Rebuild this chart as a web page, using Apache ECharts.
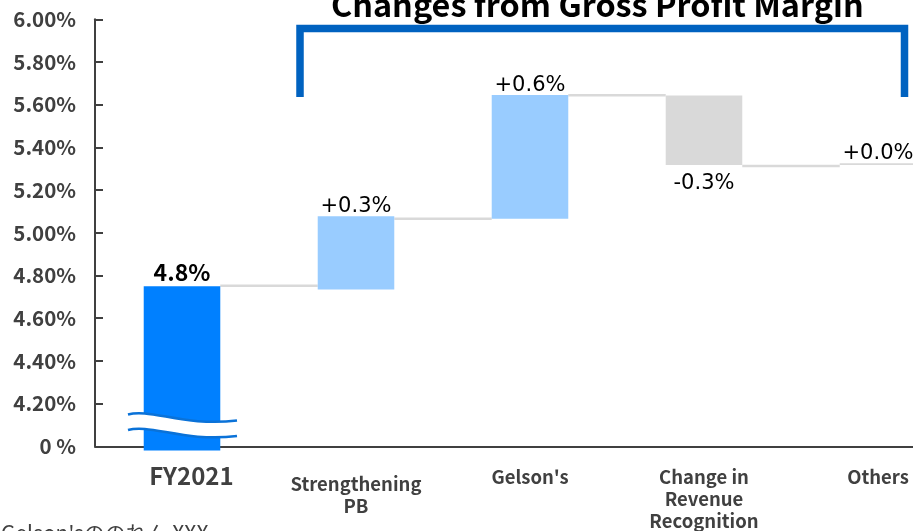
<!DOCTYPE html>
<html>
<head>
<meta charset="utf-8">
<script src="https://cdn.jsdelivr.net/npm/echarts@6/dist/echarts.min.js"></script>
<style>html,body{margin:0;padding:0;background:#fff;}#c{width:913px;height:531px;}</style>
</head>
<body>
<div id="c"></div>
<script>
// ---- data ----
const categories = ['FY2021', 'Strengthening\nPB', "Gelson's", 'Change in\nRevenue\nRecognition', 'Others'];
const barBottom = [3.98, 4.735, 5.066, 5.318, 5.317];
const barTop = [4.75, 5.077, 5.645, 5.643, 5.326];
const valueLabels = ['4.8%', '+0.3%', '+0.6%', '-0.3%', '+0.0%'];
const labelBelow = [false, false, false, true, false];
const connectorLevels = [4.752, 5.066, 5.644, 5.313];
const yTicks = [4.0, 4.2, 4.4, 4.6, 4.8, 5.0, 5.2, 5.4, 5.6, 5.8, 6.0];
const yTickLabels = ['0 %', '4.20%', '4.40%', '4.60%', '4.80%', '5.00%', '5.20%', '5.40%', '5.60%', '5.80%', '6.00%'];
const titleText = 'Changes from Gross Profit Margin';
const footnoteText = "※Gelson'sののれん XXX";

const barColors = ['#0080ff', '#99ccff', '#99ccff', '#d9d9d9', '#d9d9d9'];
const CJK = '"Noto Sans CJK JP", "Noto Sans", sans-serif';

// decorative axis-break wave (two curves, white band between)
const waveTop = { x1: 128, y1: 414.5, cpx1: 150, cpy1: 408, cpx2: 185, cpy2: 427, x2: 237, y2: 420.5 };
const waveGap = 15.5;
function bez(s, t) {
  const u = 1 - t;
  return [
    u*u*u*s.x1 + 3*u*u*t*s.cpx1 + 3*u*t*t*s.cpx2 + t*t*t*s.x2,
    u*u*u*s.y1 + 3*u*u*t*s.cpy1 + 3*u*t*t*s.cpy2 + t*t*t*s.y2
  ];
}
const waveBottom = Object.assign({}, waveTop, {
  y1: waveTop.y1 + waveGap, cpy1: waveTop.cpy1 + waveGap, cpy2: waveTop.cpy2 + waveGap, y2: waveTop.y2 + waveGap
});
const bandPts = [];
for (let k = 0; k <= 30; k++) bandPts.push(bez(waveTop, k / 30));
for (let k = 30; k >= 0; k--) bandPts.push(bez(waveBottom, k / 30));

const chart = echarts.init(document.getElementById('c'));

const barData = categories.map((c, i) => [i, barBottom[i], barTop[i]]);
const connData = connectorLevels.map((v, i) => [i, v]);

const option = {
  animation: false,
  backgroundColor: '#fff',
  title: {
    text: titleText,
    left: 326, top: -17,
    textStyle: { fontFamily: CJK, fontWeight: 'bold', fontSize: 32.4, color: '#000' }
  },
  grid: { left: 95, top: 19.3, bottom: 84.7, width: 870, containLabel: false, outerBoundsMode: 'none' },
  xAxis: {
    type: 'category',
    data: categories,
    axisTick: { show: false },
    axisLine: { lineStyle: { color: '#404040', width: 2 } },
    axisLabel: {
      margin: 20,
      interval: 0,
      formatter: (v, idx) => {
        const lines = v.split('\n').map(l => idx === 0 ? `{big|${l}}` : `{g|${l}}`);
        if (idx === 1) lines.unshift('{sp| }');
        return lines.join('\n');
      },
      rich: {
        big: { fontFamily: CJK, fontWeight: 'bold', fontSize: 24, lineHeight: 20, color: '#404040', padding: [0, 0, 0, 19] },
        g: { fontFamily: CJK, fontWeight: 'bold', fontSize: 18.5, lineHeight: 22, color: '#404040' },
        sp: { fontSize: 1, lineHeight: 7 }
      }
    }
  },
  yAxis: {
    type: 'value',
    min: yTicks[0], max: yTicks[yTicks.length - 1], interval: 0.2,
    splitLine: { show: false },
    axisLine: { show: true, lineStyle: { color: '#404040', width: 2 } },
    axisTick: { show: true, inside: true, length: 8, lineStyle: { color: '#404040', width: 2 } },
    axisLabel: {
      margin: 19,
      fontFamily: CJK, fontWeight: 'bold', fontSize: 20.5, color: '#404040',
      formatter: v => {
        let best = 0;
        yTicks.forEach((t, k) => { if (Math.abs(t - v) < Math.abs(yTicks[best] - v)) best = k; });
        return yTickLabels[best];
      }
    }
  },
  series: [
    {
      type: 'custom',
      name: 'connectors',
      data: connData,
      z: 1,
      renderItem: (params, api) => {
        const i = api.value(0);
        const p0 = api.coord([i, api.value(1)]);
        const p1 = api.coord([i + 1, api.value(1)]);
        const w = api.size([1, 0])[0] * 0.44;
        return {
          type: 'line',
          shape: { x1: p0[0] + w / 2, y1: p0[1], x2: p1[0] - w / 2, y2: p1[1] },
          style: { stroke: '#d9d9d9', lineWidth: 2.5 }
        };
      }
    },
    {
      type: 'custom',
      name: 'bars',
      data: barData,
      z: 2,
      renderItem: (params, api) => {
        const i = api.value(0);
        const lo = api.coord([i, api.value(1)]);
        const hi = api.coord([i, api.value(2)]);
        const w = api.size([1, 0])[0] * 0.44;
        const bold = i === 0;
        const below = labelBelow[i];
        return {
          type: 'group',
          children: [
            {
              type: 'rect',
              shape: { x: lo[0] - w / 2, y: hi[1], width: w, height: Math.max(lo[1] - hi[1], 1) },
              style: { fill: barColors[i] }
            },
            {
              type: 'text',
              style: {
                text: valueLabels[i],
                x: lo[0], y: below ? lo[1] + 8 : hi[1] + (bold ? -2 : 1),
                align: 'center',
                verticalAlign: below ? 'top' : 'bottom',
                font: bold ? `bold 23px ${CJK}` : '21px "DejaVu Sans", sans-serif',
                fill: '#000'
              }
            }
          ]
        };
      }
    }
  ],
  graphic: [
    {
      type: 'polyline', z: 100,
      shape: { points: [[300, 97], [300, 28.5], [904.5, 28.5], [904.5, 97]] },
      style: { stroke: '#0062c0', lineWidth: 7.5, fill: null, lineJoin: 'miter' }
    },
    {
      type: 'polygon', z: 100,
      shape: { points: bandPts },
      style: { fill: '#fff', stroke: null }
    },
    {
      type: 'bezierCurve', z: 101,
      shape: waveTop,
      style: { fill: null, stroke: '#0a72d8', lineWidth: 2.5 }
    },
    {
      type: 'bezierCurve', z: 101,
      shape: waveBottom,
      style: { fill: null, stroke: '#0a72d8', lineWidth: 2.5 }
    },
    {
      type: 'text', z: 100, x: -20, y: 523,
      style: { text: footnoteText, font: `21px ${CJK}`, fill: '#404040' }
    }
  ]
};
chart.setOption(option);
</script>
</body>
</html>
